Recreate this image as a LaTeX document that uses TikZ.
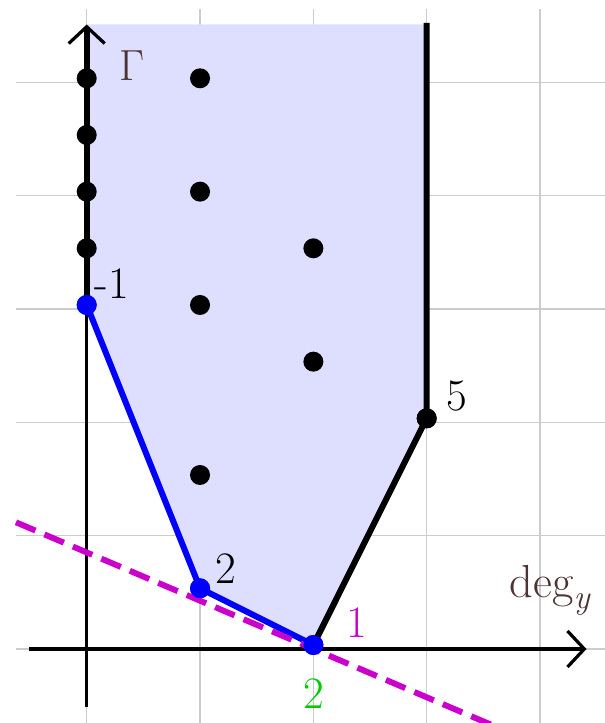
\documentclass[tikz,border=0pt]{standalone}
\usepackage{xcolor}
\usepackage{tikz}
\usetikzlibrary{arrows.meta,positioning}

\definecolor{gridgray}{RGB}{204,204,204}
\definecolor{fillblue}{RGB}{222,222,255}
\definecolor{labelbrown}{RGB}{77,51,51}
\definecolor{slopemagenta}{RGB}{204,0,204}
\definecolor{multgreen}{RGB}{0,204,0}

\begin{document}
\begin{tikzpicture}[
    x=2.8333cm, y=1.41667cm,
    gridline/.style={gridgray, line width=0.8pt},
    axis/.style={line width=2.3pt, -{Straight Barb[length=0.42cm, width=0.9cm]}},
    edge/.style={line width=4.3pt},
    slope/.style={slopemagenta, line width=4.2pt, dash pattern=on 15pt off 7pt},
    dot/.style={circle, fill=black, inner sep=0pt, minimum size=0.5cm},
    bluedot/.style={dot, fill=blue},
    axislabel/.style={labelbrown, font=\fontsize{31}{36}\selectfont},
    num/.style={font=\fontsize{32}{38}\selectfont}
]
\useasboundingbox (-0.765,-1.3765) rectangle (4.5645,11.382);

% Grid and axes (sit a little below the lattice)
\begin{scope}[yshift=-0.1cm]
\draw[gridline] (0,-1.4) -- (0,11.3);
\draw[gridline] (1,-1.4) -- (1,11.3);
\draw[gridline] (2,-1.4) -- (2,11.3);
\draw[gridline] (3,-1.4) -- (3,11.3);
\draw[gridline] (4,-1.4) -- (4,11.3);
\draw[gridline] (-0.624,0) -- (4.6,0);
\draw[gridline] (-0.624,2) -- (4.6,2);
\draw[gridline] (-0.624,4) -- (4.6,4);
\draw[gridline] (-0.624,6) -- (4.6,6);
\draw[gridline] (-0.624,8) -- (4.6,8);
\draw[gridline] (-0.624,10) -- (4.6,10);
\end{scope}

% Newton polygon region
\coordinate (top0) at (0,10.95);
\coordinate (top3) at (3,10.95);
\fill[fillblue] (top0) -- (0,6) -- (1,1) -- (2,0) -- (3,4) -- (top3) -- cycle;

\begin{scope}[yshift=-0.1cm]
\coordinate (ybot) at (0,-1.02);
\coordinate (ytop) at (0,11.02);
\coordinate (xleft) at (-0.506,0);
\coordinate (xright) at (4.41,0);
\draw[axis] (ybot) -- (ytop);
\draw[axis] (xleft) -- (xright);
\end{scope}

% Lattice points
\node[bluedot] (d06) at (0,6) {};
\node[bluedot] (d11) at (1,1) {};
\node[bluedot] (d20) at (2,0) {};
\node[dot] (d34) at (3,4) {};
\coordinate (edgetop0) at (0,10.9);
\coordinate (edgetop3) at (3,10.98);

% Edges
\draw[edge] (d06.center) -- (edgetop0);
\draw[edge, blue] (d06.center) -- (d11.center) -- (d20.center);
\draw[edge] (d20.center) -- (d34.center) -- (edgetop3);

% Supporting line
\begin{scope}[yshift=-0.1cm]
\coordinate (sl) at (-0.624,2.236);
\coordinate (sr) at (3.6,-1.363);
\draw[slope] (sl) -- (sr);
\end{scope}

\node[dot] (d07) at (0,7) {};
\node[dot] (d08) at (0,8) {};
\node[dot] (d09) at (0,9) {};
\node[dot] (d010) at (0,10) {};
\node[dot] (d13) at (1,3) {};
\node[dot] (d16) at (1,6) {};
\node[dot] (d18) at (1,8) {};
\node[dot] (d110) at (1,10) {};
\node[dot] (d25) at (2,5) {};
\node[dot] (d27) at (2,7) {};
\node[bluedot] at (d06) {};
\node[bluedot] at (d11) {};
\node[bluedot] at (d20) {};
\node[dot] at (d34) {};

% Labels
\node[axislabel] (gammalbl) at (0.404,10.217) {Γ};
\node[axislabel, anchor=base west] (deglbl) at (3.69,0.83) {\fontsize{33}{38}\selectfont deg\raisebox{-0.22em}{\fontsize{24}{28}\selectfont\itshape y}};
\node[num] (lblm1) at (0.223,6.37) {-1};
\node[num] (lbl2) at (1.229,1.34) {2};
\node[num, slopemagenta] (lbl1) at (2.382,0.397) {1};
\node[num, multgreen] (lblg2) at (2.0,-0.865) {2};
\node[num] (lbl5) at (3.265,4.394) {5};

\end{tikzpicture}
\end{document}
